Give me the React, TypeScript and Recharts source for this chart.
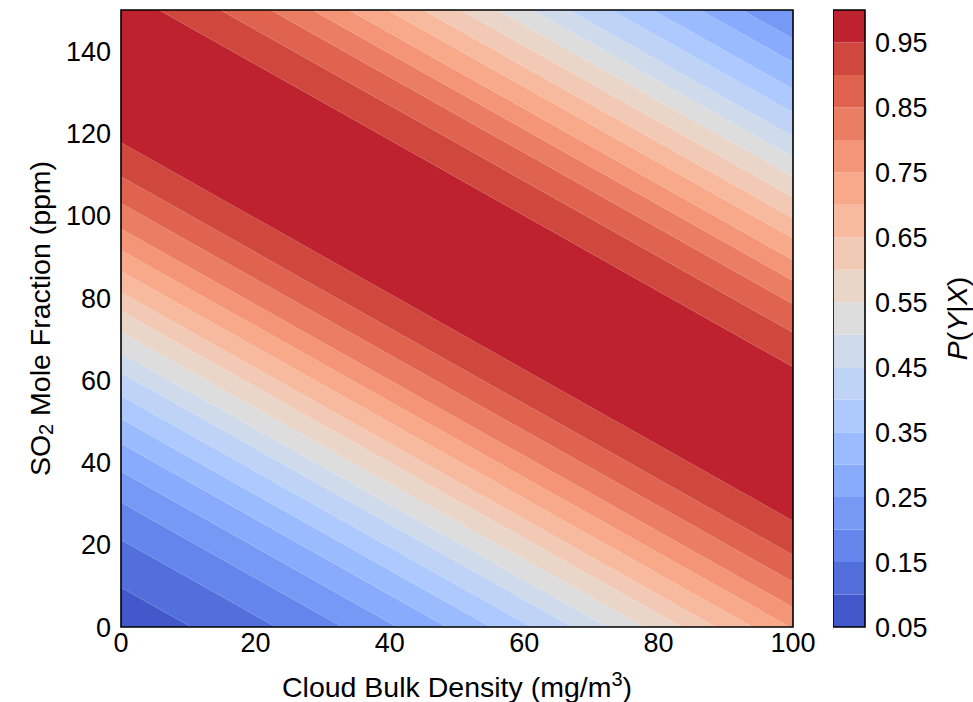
import React from 'react';
import { ComposedChart, Area, XAxis, YAxis, ReferenceArea, Label } from 'recharts';

// ---- data ----
const xTicks = [0, 20, 40, 60, 80, 100];
const yTicks = [0, 20, 40, 60, 80, 100, 120, 140];
const colorbarTicks = [0.05, 0.15, 0.25, 0.35, 0.45, 0.55, 0.65, 0.75, 0.85, 0.95];
const levels = [0.05, 0.1, 0.15, 0.2, 0.25, 0.3, 0.35, 0.4, 0.45, 0.5, 0.55, 0.6, 0.65, 0.7, 0.75, 0.8, 0.85, 0.9, 0.95, 1.0];

// contour lines below the ridge (value rising toward the ridge): SO2 at x=0 and x=100
const lowerLineLevels = [0.1, 0.15, 0.2, 0.25, 0.3, 0.35, 0.4, 0.45, 0.5, 0.55, 0.6, 0.65, 0.7, 0.75, 0.8, 0.85, 0.9, 0.95];
const lowerLineAt0 = [9.6, 21.2, 30.3, 37.8, 44.6, 50.6, 56.2, 61.8, 66.6, 71.7, 76.8, 81.4, 86.5, 91.6, 96.8, 103.0, 109.5, 117.8];
const lowerLineAt100 = [-82.4, -70.8, -61.7, -54.2, -47.4, -41.4, -35.8, -30.2, -25.4, -20.3, -15.2, -10.6, -5.5, -0.4, 4.8, 11.0, 17.5, 25.8];

// contour lines above the ridge (value falling away from the ridge)
const upperLineLevels = [0.95, 0.9, 0.85, 0.8, 0.75, 0.7, 0.65, 0.6, 0.55, 0.5, 0.45, 0.4, 0.35, 0.3, 0.25, 0.2];
const upperLineAt0 = [155.2, 163.6, 170.5, 176.2, 181.2, 186.5, 191.4, 196.5, 201.5, 206.3, 211.3, 217.1, 222.8, 229.3, 235.0, 242.7];
const upperLineAt100 = [63.2, 71.6, 78.5, 84.2, 89.2, 94.5, 99.4, 104.5, 109.5, 114.3, 119.3, 125.1, 130.8, 137.3, 143.0, 150.7];

// ---- styling helpers ----
const COOLWARM: number[][] = [
  [59, 76, 192], [68, 90, 204], [77, 104, 215], [87, 117, 225], [98, 130, 234], [108, 142, 241],
  [119, 154, 247], [130, 165, 251], [141, 176, 254], [152, 185, 255], [163, 194, 255], [174, 201, 253],
  [184, 208, 249], [194, 213, 244], [204, 217, 238], [213, 219, 230], [221, 221, 221], [229, 216, 209],
  [236, 211, 197], [241, 204, 185], [245, 196, 173], [247, 187, 160], [247, 177, 148], [247, 166, 135],
  [244, 154, 123], [241, 141, 111], [236, 127, 99], [229, 112, 88], [222, 96, 77], [213, 80, 66],
  [203, 62, 56], [192, 40, 47], [180, 4, 38],
];
function coolwarm(t: number): string {
  const n = COOLWARM.length - 1;
  const p = Math.max(0, Math.min(1, t)) * n;
  const i = Math.min(n - 1, Math.floor(p));
  const f = p - i;
  const c = COOLWARM[i].map((v, k) => Math.round(v + (COOLWARM[i + 1][k] - v) * f));
  return `rgb(${c[0]},${c[1]},${c[2]})`;
}
const vmin = levels[0];
const vmax = levels[levels.length - 1];
const bandColor = (lowLevel: number) => coolwarm((lowLevel + 0.025 - vmin) / (vmax - vmin));

const FONT = '"Liberation Sans", Arial, Helvetica, sans-serif';
const FS = 27;
const LFS = 28.5;

// ---- build band table for the contour fill ----
type Band = { key: string; level: number; at0: number[]; at100: number[] };
const bands: Band[] = [];
const last = lowerLineAt0.length - 1;
bands.push({ key: 'lo0', level: 0.05, at0: [-300, lowerLineAt0[0]], at100: [-300, lowerLineAt100[0]] });
for (let i = 0; i < last; i++) {
  bands.push({
    key: `lo${i + 1}`,
    level: lowerLineLevels[i],
    at0: [lowerLineAt0[i], lowerLineAt0[i + 1]],
    at100: [lowerLineAt100[i], lowerLineAt100[i + 1]],
  });
}
bands.push({ key: 'ridge', level: 0.95, at0: [lowerLineAt0[last], upperLineAt0[0]], at100: [lowerLineAt100[last], upperLineAt100[0]] });
const ulast = upperLineAt0.length - 1;
for (let j = 0; j < ulast; j++) {
  bands.push({
    key: `up${j}`,
    level: upperLineLevels[j + 1],
    at0: [upperLineAt0[j], upperLineAt0[j + 1]],
    at100: [upperLineAt100[j], upperLineAt100[j + 1]],
  });
}
bands.push({ key: 'upTop', level: upperLineLevels[ulast] - 0.05, at0: [upperLineAt0[ulast], 500], at100: [upperLineAt100[ulast], 500] });

const row0: Record<string, any> = { x: 0 };
const row100: Record<string, any> = { x: 100 };
bands.forEach((b) => {
  row0[b.key] = b.at0;
  row100[b.key] = b.at100;
});
const contourData = [row0, row100];

// colorbar table
const cbBands = levels.slice(0, -1).map((l, i) => ({ key: `cb${i}`, level: l, range: [l, levels[i + 1]] }));
const cbRowA: Record<string, any> = { x: 0 };
const cbRowB: Record<string, any> = { x: 1 };
cbBands.forEach((b) => {
  cbRowA[b.key] = b.range;
  cbRowB[b.key] = b.range;
});
const colorbarData = [cbRowA, cbRowB];

// ---- labels ----
const XLabel = (props: any) => {
  const vb = props.viewBox || { x: 121, y: 627, width: 672, height: 75 };
  const cx = vb.x + vb.width / 2;
  const y = vb.y + 70;
  return (
    <text x={cx} y={y} textAnchor="middle" fill="#000" fontSize={LFS} fontFamily={FONT}>
      <tspan>Cloud Bulk Density (mg/m</tspan>
      <tspan dy={-11} fontSize={20}>3</tspan>
      <tspan dy={11}>)</tspan>
    </text>
  );
};

const YLabel = (props: any) => {
  const vb = props.viewBox || { x: 0, y: 10, width: 121, height: 617 };
  const cx = vb.x + 40;
  const cy = vb.y + vb.height / 2;
  return (
    <text
      x={cx}
      y={cy}
      transform={`rotate(-90, ${cx}, ${cy})`}
      textAnchor="middle"
      dominantBaseline="central"
      fill="#000"
      fontSize={LFS}
      fontFamily={FONT}
    >
      <tspan>SO</tspan>
      <tspan dy={6} fontSize={20}>2</tspan>
      <tspan dy={-6}> Mole Fraction (ppm)</tspan>
    </text>
  );
};

const CbLabel = (props: any) => {
  const vb = props.viewBox || { x: 32, y: 10, width: 108, height: 617 };
  const cx = vb.x + 92;
  const cy = vb.y + vb.height / 2;
  return (
    <text
      x={cx}
      y={cy}
      transform={`rotate(-90, ${cx}, ${cy})`}
      textAnchor="middle"
      dominantBaseline="central"
      fill="#000"
      fontSize={LFS}
      fontFamily={FONT}
    >
      <tspan fontStyle="italic">P</tspan>
      <tspan>(</tspan>
      <tspan fontStyle="italic">Y</tspan>
      <tspan>|</tspan>
      <tspan fontStyle="italic">X</tspan>
      <tspan>)</tspan>
    </text>
  );
};

const tickStyle = { fill: '#000', fontSize: FS, fontFamily: FONT };

export default function App() {
  return (
    <div style={{ position: 'absolute', left: 0, top: 0, width: 973, height: 702, background: '#fff' }}>
      <div style={{ position: 'absolute', left: 0, top: 0 }}>
        <ComposedChart width={820} height={702} data={contourData} margin={{ top: 10, right: 27, bottom: 0, left: 0 }}>
          <XAxis
            dataKey="x"
            type="number"
            domain={[0, 100]}
            ticks={xTicks}
            interval={0}
            allowDataOverflow
            height={75}
            axisLine={false}
            tickLine={false}
            tickSize={4}
            tickMargin={2}
            tick={tickStyle}
          >
            <Label content={XLabel} />
          </XAxis>
          <YAxis
            type="number"
            domain={[0, 150]}
            ticks={yTicks}
            interval={0}
            allowDataOverflow
            width={121}
            axisLine={false}
            tickLine={false}
            tickSize={6}
            tickMargin={4}
            tick={tickStyle}
          >
            <Label content={YLabel} />
          </YAxis>
          {bands.map((b) => (
            <Area
              key={b.key}
              dataKey={b.key}
              type="linear"
              fill={bandColor(b.level)}
              fillOpacity={1}
              stroke="none"
              dot={false}
              activeDot={false}
              isAnimationActive={false}
            />
          ))}
          <ReferenceArea x1={0} x2={100} y1={0} y2={150} fill="none" fillOpacity={0} stroke="#000" strokeWidth={1.6} ifOverflow="visible" />
        </ComposedChart>
      </div>
      <div style={{ position: 'absolute', left: 833, top: 0 }}>
        <ComposedChart width={140} height={702} data={colorbarData} margin={{ top: 10, right: 0, bottom: 75, left: 0 }}>
          <XAxis dataKey="x" type="number" domain={[0, 1]} hide />
          <YAxis
            orientation="right"
            type="number"
            domain={[0.05, 1.0]}
            ticks={colorbarTicks}
            interval={0}
            allowDataOverflow
            width={108}
            axisLine={false}
            tickLine={false}
            tickSize={6}
            tickMargin={4}
            tick={tickStyle}
            tickFormatter={(v: number) => v.toFixed(2)}
          >
            <Label content={CbLabel} />
          </YAxis>
          {cbBands.map((b) => (
            <Area
              key={b.key}
              dataKey={b.key}
              type="linear"
              fill={bandColor(b.level)}
              fillOpacity={1}
              stroke="none"
              dot={false}
              activeDot={false}
              isAnimationActive={false}
            />
          ))}
          <ReferenceArea x1={0} x2={1} y1={0.05} y2={1.0} fill="none" fillOpacity={0} stroke="#000" strokeWidth={1.6} ifOverflow="visible" />
        </ComposedChart>
      </div>
    </div>
  );
}
